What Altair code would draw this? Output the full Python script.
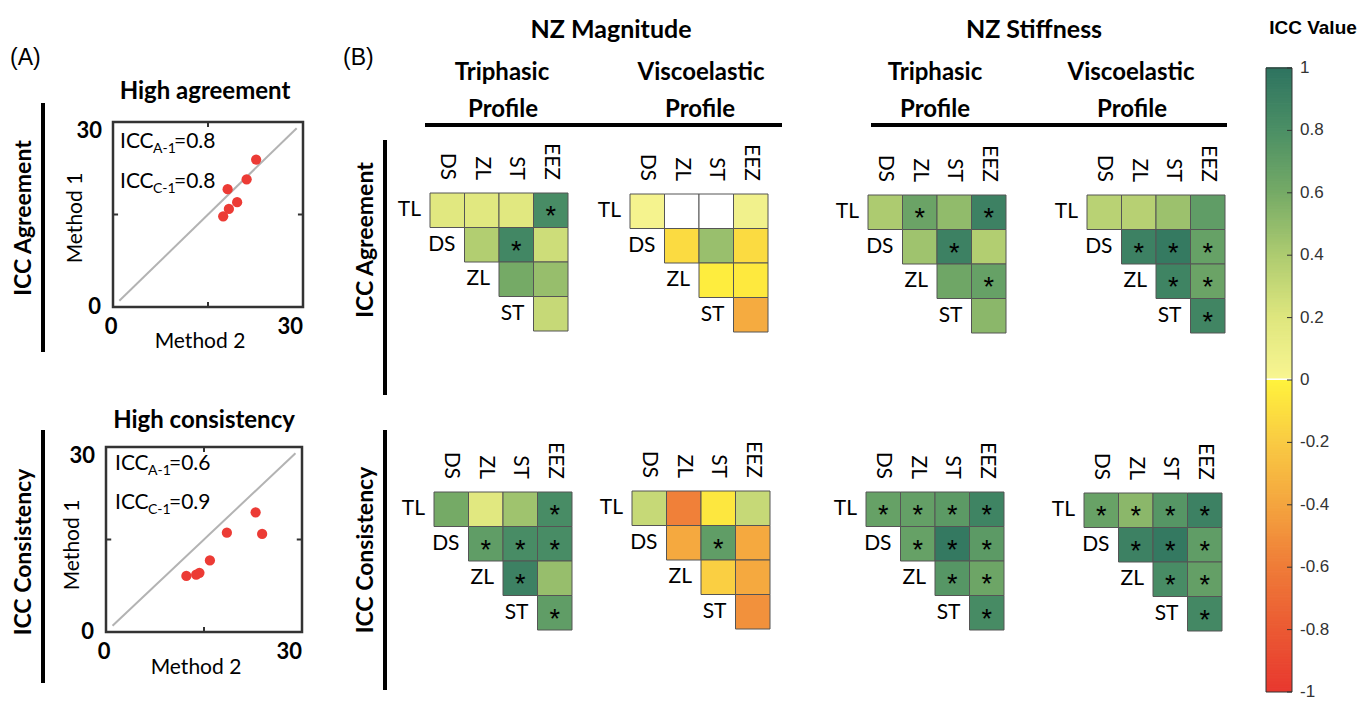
import altair as alt
import numpy as np
import pandas as pd

# ---------------- data ----------------
ROWS = ["TL", "DS", "ZL", "ST"]
COLS = ["DS", "ZL", "ST", "EEZ"]

# upper-triangle order: TL-DS, TL-ZL, TL-ST, TL-EEZ, DS-ZL, DS-ST, DS-EEZ, ZL-ST, ZL-EEZ, ST-EEZ
mag_tri_agree = [0.18, 0.18, 0.18, 0.82, 0.38, 0.86, 0.27, 0.60, 0.48, 0.30]
mag_tri_agree_sig = [0, 0, 0, 1, 0, 1, 0, 0, 0, 0]
mag_visc_agree = [0.03, 0.0, 0.0, 0.06, -0.12, 0.47, -0.12, -0.03, -0.05, -0.37]
mag_visc_agree_sig = [0, 0, 0, 0, 0, 0, 0, 0, 0, 0]
mag_tri_cons = [0.60, 0.18, 0.45, 0.82, 0.70, 0.82, 0.82, 0.90, 0.48, 0.70]
mag_tri_cons_sig = [0, 0, 0, 1, 1, 1, 1, 1, 0, 1]
mag_visc_cons = [0.30, -0.58, -0.06, 0.30, -0.38, 0.70, -0.38, -0.18, -0.38, -0.50]
mag_visc_cons_sig = [0, 0, 0, 0, 0, 1, 0, 0, 0, 0]
stf_tri_agree = [0.40, 0.65, 0.50, 0.90, 0.45, 0.90, 0.38, 0.63, 0.67, 0.52]
stf_tri_agree_sig = [0, 1, 0, 1, 0, 1, 0, 0, 1, 0]
stf_visc_agree = [0.35, 0.36, 0.46, 0.70, 0.90, 0.95, 0.67, 0.88, 0.65, 0.87]
stf_visc_agree_sig = [0, 0, 0, 0, 1, 1, 1, 1, 1, 1]
stf_tri_cons = [0.67, 0.68, 0.72, 0.88, 0.67, 0.96, 0.72, 0.75, 0.64, 0.83]
stf_tri_cons_sig = [1, 1, 1, 1, 1, 1, 1, 1, 1, 1]
stf_visc_cons = [0.66, 0.52, 0.75, 0.90, 0.90, 0.96, 0.70, 0.82, 0.68, 0.85]
stf_visc_cons_sig = [1, 1, 1, 1, 1, 1, 1, 1, 1, 1]

agree_method2 = [22.6, 21.1, 18.1, 19.6, 18.3, 17.4]
agree_method1 = [23.9, 20.7, 19.1, 17.0, 15.9, 14.7]
consist_method2 = [22.9, 23.9, 18.5, 15.9, 14.3, 13.8, 12.3]
consist_method1 = [19.4, 15.9, 16.1, 11.6, 9.6, 9.3, 9.1]
AXIS_TICKS = [0, 30]
IDENTITY = [1, 29]

CB_TICKS = [1, 0.8, 0.6, 0.4, 0.2, 0, -0.2, -0.4, -0.6, -0.8, -1]
CB_LABELS = ["1", "0.8", "0.6", "0.4", "0.2", "0", "-0.2", "-0.4", "-0.6", "-0.8", "-1"]

# ---------------- style / layout ----------------
FONT = "Lato"
ARIAL = "Liberation Sans"
CELL = 34.5
C_DOMAIN = [-1, -0.8, -0.6, -0.4, -0.2, -0.004, 0, 0.004, 0.2, 0.4, 0.6, 0.8, 1]
C_RANGE = ["#e8382f", "#eb5a33", "#ef7c38", "#f4a53f", "#f9cb43", "#fff23d", "#ffffff",
           "#f8f591", "#dee67e", "#adcb70", "#75aa66", "#4b8f65", "#2e7360"]
CSCALE = alt.Scale(domain=C_DOMAIN, range=C_RANGE, interpolate="rgb")

HEAT_PANELS = [
    (mag_tri_agree, mag_tri_agree_sig, 430, 193),
    (mag_visc_agree, mag_visc_agree_sig, 630, 194),
    (mag_tri_cons, mag_tri_cons_sig, 434, 492),
    (mag_visc_cons, mag_visc_cons_sig, 632, 491),
    (stf_tri_agree, stf_tri_agree_sig, 868, 195),
    (stf_visc_agree, stf_visc_agree_sig, 1087, 195),
    (stf_tri_cons, stf_tri_cons_sig, 866, 492),
    (stf_visc_cons, stf_visc_cons_sig, 1084, 493),
]

DUMMY = pd.DataFrame({"d": [0]})


def label(text, x, y, size, weight="normal", font=FONT, align="center",
          baseline="alphabetic", angle=None, color="black"):
    kw = dict(text=text, fontSize=size, fontWeight=weight, font=font, align=align,
              baseline=baseline, color=color)
    if angle is not None:
        kw["angle"] = angle
    return alt.Chart(DUMMY).mark_text(**kw).encode(x=alt.value(x), y=alt.value(y))


def bar(x, y, x2=None, y2=None, w=4):
    enc = dict(x=alt.value(x), y=alt.value(y))
    if x2 is not None:
        enc["x2"] = alt.value(x2)
    if y2 is not None:
        enc["y2"] = alt.value(y2)
    return alt.Chart(DUMMY).mark_rule(color="black", strokeWidth=w).encode(**enc)


def heat_layers(vals, sig, left, top):
    pairs = [(r, c) for i, r in enumerate(ROWS) for c in COLS[i:]]
    df = pd.DataFrame({"row": [p[0] for p in pairs], "col": [p[1] for p in pairs],
                       "icc": vals, "sig": sig})
    xs = alt.Scale(type="band", domain=COLS, range=[left, left + 4 * CELL],
                   paddingInner=0, paddingOuter=0)
    ys = alt.Scale(type="band", domain=ROWS, range=[top, top + 4 * CELL],
                   paddingInner=0, paddingOuter=0)
    X = alt.X("col:N", scale=xs, axis=None)
    Y = alt.Y("row:N", scale=ys, axis=None)
    Xc = alt.X("col:N", scale=xs, axis=None, bandPosition=0.5)
    Yc = alt.Y("row:N", scale=ys, axis=None, bandPosition=0.5)
    rect = alt.Chart(df).mark_rect(stroke="#555555", strokeWidth=1).encode(
        x=X, y=Y, color=alt.Color("icc:Q", scale=CSCALE, legend=None))
    star = alt.Chart(df).transform_filter("datum.sig == 1").mark_text(
        text="*", font=ARIAL, fontSize=27, baseline="middle", dy=7, color="black").encode(x=Xc, y=Yc)
    collab = alt.Chart(pd.DataFrame({"col": COLS})).mark_text(
        angle=90, align="right", baseline="middle", font=FONT, fontSize=21, color="black").encode(
        x=Xc, y=alt.value(top - 13), text="col:N")
    rowlab = alt.Chart(pd.DataFrame({"row": ROWS, "col": COLS})).mark_text(
        align="right", baseline="middle", font=FONT, fontSize=21, color="black",
        dx=-(CELL / 2 + 9)).encode(x=Xc, y=Yc, text="row:N")
    return [rect, star, collab, rowlab]


def scatter_layers(m2, m1, L, R, T, B):
    lo, hi = AXIS_TICKS[0], AXIS_TICKS[-1]
    xs = alt.Scale(domain=[lo, hi], range=[L, R], nice=False, zero=False)
    ys = alt.Scale(domain=[lo, hi], range=[B, T], nice=False, zero=False)
    out = []
    diag = pd.DataFrame({"a": IDENTITY, "b": IDENTITY})
    out.append(alt.Chart(diag).mark_line(color="#b3b3b3", strokeWidth=2).encode(
        x=alt.X("a:Q", scale=xs, axis=None), y=alt.Y("b:Q", scale=ys, axis=None)))
    pts = pd.DataFrame({"m2": m2, "m1": m1})
    out.append(alt.Chart(pts).mark_circle(size=105, color="#ec3b35", opacity=1).encode(
        x=alt.X("m2:Q", scale=xs, axis=None), y=alt.Y("m1:Q", scale=ys, axis=None)))
    frame = pd.DataFrame({"x0": [lo], "x1": [hi], "y0": [lo], "y1": [hi]})
    out.append(alt.Chart(frame).mark_rect(fillOpacity=0, stroke="#333333", strokeWidth=2.5).encode(
        x=alt.X("x0:Q", scale=xs, axis=None), x2="x1",
        y=alt.Y("y0:Q", scale=ys, axis=None), y2="y1"))
    mid = (lo + hi) / 2
    t = 0.8
    ticks = pd.DataFrame({"x0": [mid, mid, lo, hi - t], "x1": [mid, mid, lo + t, hi],
                          "y0": [lo, hi - t, mid, mid], "y1": [lo + t, hi, mid, mid]})
    out.append(alt.Chart(ticks).mark_rule(color="#333333", strokeWidth=2).encode(
        x=alt.X("x0:Q", scale=xs, axis=None), x2="x1",
        y=alt.Y("y0:Q", scale=ys, axis=None), y2="y1"))
    tk = dict(font=FONT, fontSize=22, fontWeight="bold", color="black")
    out.append(alt.Chart(pd.DataFrame({"v": [lo]})).mark_text(
        text=str(lo), align="center", baseline="alphabetic", dx=-2, **tk).encode(
        x=alt.X("v:Q", scale=xs, axis=None), y=alt.value(B + 27)))
    out.append(alt.Chart(pd.DataFrame({"v": [hi]})).mark_text(
        text=str(hi), align="right", baseline="alphabetic", **tk).encode(
        x=alt.X("v:Q", scale=xs, axis=None), y=alt.value(B + 27)))
    out.append(alt.Chart(pd.DataFrame({"v": [hi]})).mark_text(
        text=str(hi), align="right", baseline="top", dy=-1, **tk).encode(
        y=alt.Y("v:Q", scale=ys, axis=None), x=alt.value(L - 11)))
    out.append(alt.Chart(pd.DataFrame({"v": [lo]})).mark_text(
        text=str(lo), align="right", baseline="middle", **tk).encode(
        y=alt.Y("v:Q", scale=ys, axis=None), x=alt.value(L - 12)))
    return out


layers = []

# ---- panel A ----
layers += scatter_layers(agree_method2, agree_method1, 113, 303, 122, 307)
layers += scatter_layers(consist_method2, consist_method1, 106, 302, 447, 632)
layers += [
    label("(A)", 10, 65, 23, font=ARIAL, align="left"),
    label("High agreement", 205, 99, 24, "bold"),
    label("High consistency", 204, 428, 24, "bold"),
    label("ICC Agreement", 24, 218, 23, "bold", baseline="middle", angle=270),
    label("ICC Consistency", 24, 552, 23, "bold", baseline="middle", angle=270),
    bar(43, 103, y2=352),
    bar(43, 430, y2=683),
    label("Method 1", 76, 218, 21, baseline="middle", angle=270),
    label("Method 2", 200, 342, 21, baseline="middle"),
    label("Method 1", 73, 545, 21, baseline="middle", angle=270),
    label("Method 2", 196, 668, 21, baseline="middle"),
    # ICC annotations (with subscripts)
    label("ICC", 120, 148, 21, align="left"),
    label("A-1", 153, 153, 14, align="left"),
    label("=0.8", 174, 148, 21, align="left"),
    label("ICC", 120, 188, 21, align="left"),
    label("C-1", 153, 193, 14, align="left"),
    label("=0.8", 174, 188, 21, align="left"),
    label("ICC", 115, 470, 21, align="left"),
    label("A-1", 148, 475, 14, align="left"),
    label("=0.6", 169, 470, 21, align="left"),
    label("ICC", 115, 509, 21, align="left"),
    label("C-1", 148, 514, 14, align="left"),
    label("=0.9", 169, 509, 21, align="left"),
]

# ---- panel B ----
for vals, sig, left, top in HEAT_PANELS:
    layers += heat_layers(vals, sig, left, top)

layers += [
    label("(B)", 343, 65, 23, font=ARIAL, align="left"),
    label("NZ Magnitude", 611, 38, 25, "bold"),
    label("NZ Stiffness", 1034, 38, 25, "bold"),
    label("Triphasic", 502, 80, 24, "bold"),
    label("Profile", 503, 117, 24, "bold"),
    label("Viscoelastic", 701, 80, 24, "bold"),
    label("Profile", 700, 117, 24, "bold"),
    label("Triphasic", 935, 80, 24, "bold"),
    label("Profile", 935, 117, 24, "bold"),
    label("Viscoelastic", 1131, 80, 24, "bold"),
    label("Profile", 1132, 117, 24, "bold"),
    bar(425, 125, x2=782),
    bar(871, 125, x2=1227),
    bar(385, 140, y2=395),
    bar(385, 430, y2=690),
    label("ICC Agreement", 366, 240, 23, "bold", baseline="middle", angle=270),
    label("ICC Consistency", 366, 550, 23, "bold", baseline="middle", angle=270),
]

# ---- colour bar ----
CB_TOP, CB_BOT, CB_L, CB_R = 68, 692, 1266, 1292
step = 0.005
samples = np.round(np.arange(-1, 1, step), 4)
cb_df = pd.DataFrame({"v": samples, "v2": samples + step * 1.5})
cb_y = alt.Scale(domain=[CB_TICKS[-1], CB_TICKS[0]], range=[CB_BOT, CB_TOP], nice=False, zero=False)
layers.append(alt.Chart(cb_df).mark_rect().encode(
    x=alt.value(CB_L), x2=alt.value(CB_R),
    y=alt.Y("v:Q", scale=cb_y, axis=None), y2="v2",
    color=alt.Color("v:Q", scale=CSCALE, legend=None)))
layers.append(alt.Chart(pd.DataFrame({"a": [CB_TICKS[-1]], "b": [CB_TICKS[0]]})).mark_rect(
    fillOpacity=0, stroke="#333333", strokeWidth=1).encode(
    x=alt.value(CB_L), x2=alt.value(CB_R), y=alt.Y("a:Q", scale=cb_y, axis=None), y2="b"))
cb_t = pd.DataFrame({"t": CB_TICKS, "lab": CB_LABELS})
layers.append(alt.Chart(cb_t).mark_rule(color="#333333", strokeWidth=1).encode(
    x=alt.value(CB_R - 5), x2=alt.value(CB_R), y=alt.Y("t:Q", scale=cb_y, axis=None)))
layers.append(alt.Chart(cb_t).mark_text(
    align="left", baseline="middle", font=ARIAL, fontSize=17, color="#333333").encode(
    x=alt.value(1300), y=alt.Y("t:Q", scale=cb_y, axis=None), text="lab:N"))
layers.append(label("ICC Value", 1313, 28, 19, "bold", font=ARIAL, baseline="middle"))

chart = alt.layer(*layers).resolve_scale(
    x="independent", y="independent", color="shared"
).properties(
    width=1363, height=706, autosize=alt.AutoSizeParams(type="none"), padding=0
).configure_view(stroke=None)

chart.save("out.html", embed_options={"renderer": "svg", "actions": False})
